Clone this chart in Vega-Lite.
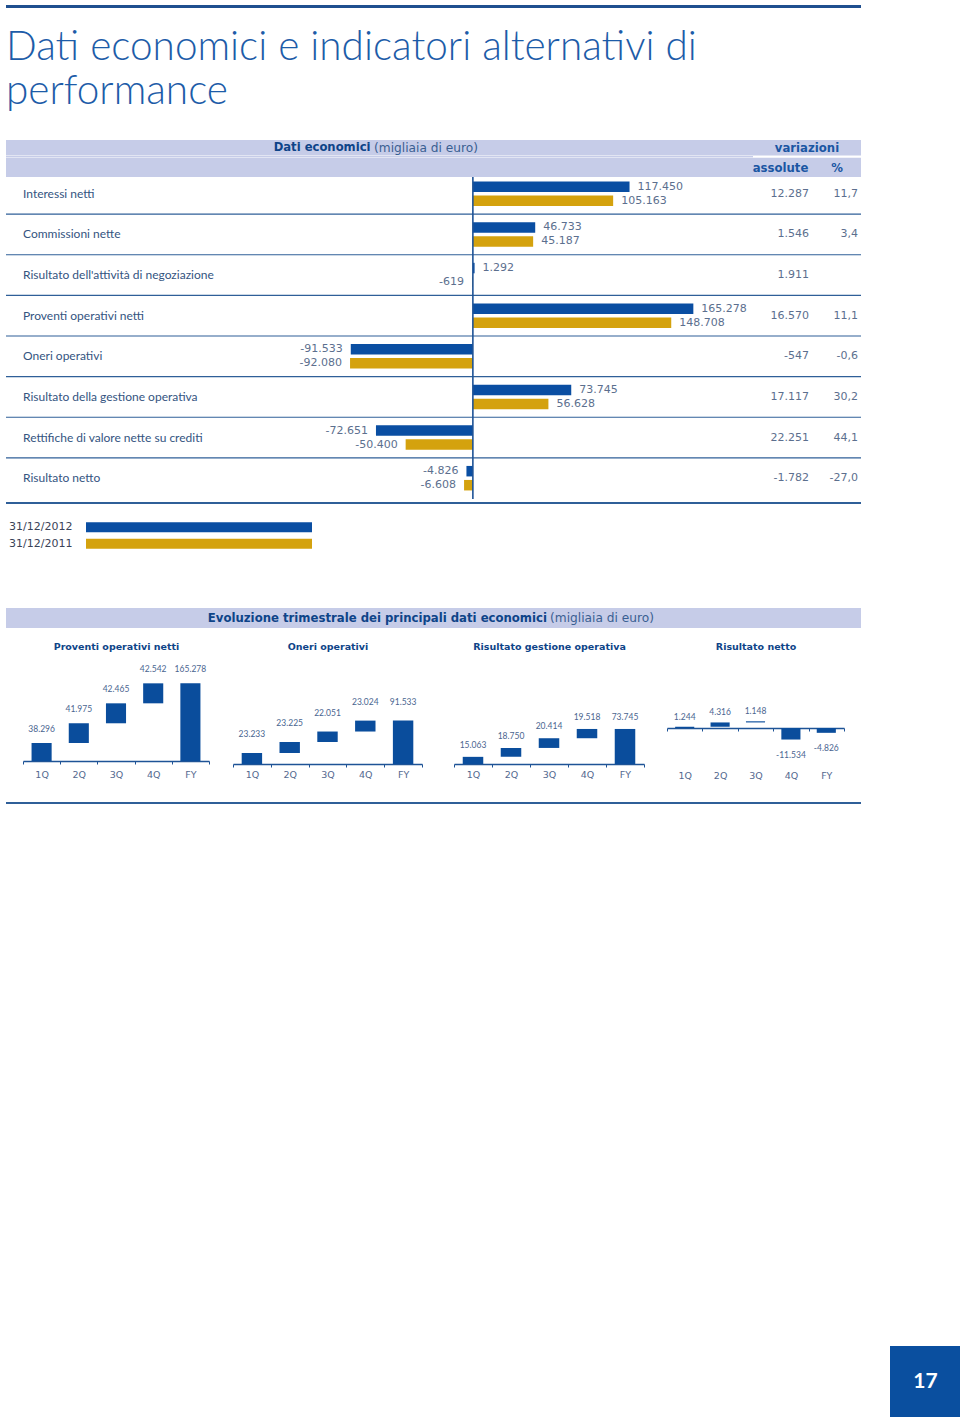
{
  "$schema": "https://vega.github.io/schema/vega-lite/v6.json",
  "background": "#ffffff",
  "padding": {"left": 5, "top": 5, "right": 0, "bottom": 0},
  "spacing": 0,
  "bounds": "flush",
  "config": {
    "view": {"stroke": null},
    "font": "Lato",
    "locale": {"number": {"decimal": ",", "thousands": ".", "grouping": [3], "currency": ["", " €"], "minus": "-"}}
  },
  "datasets": {
    "titolo": [
      {"riga": 1, "testo": "Dati economici e indicatori alternativi di"},
      {"riga": 2, "testo": "performance"}
    ],
    "barre": [
      {"voce": "Interessi netti", "anno": "2012", "valore": 117450},
      {"voce": "Interessi netti", "anno": "2011", "valore": 105163},
      {"voce": "Commissioni nette", "anno": "2012", "valore": 46733},
      {"voce": "Commissioni nette", "anno": "2011", "valore": 45187},
      {"voce": "Risultato dell'attività di negoziazione", "anno": "2012", "valore": 1292},
      {"voce": "Risultato dell'attività di negoziazione", "anno": "2011", "valore": -619},
      {"voce": "Proventi operativi netti", "anno": "2012", "valore": 165278},
      {"voce": "Proventi operativi netti", "anno": "2011", "valore": 148708},
      {"voce": "Oneri operativi", "anno": "2012", "valore": -91533},
      {"voce": "Oneri operativi", "anno": "2011", "valore": -92080},
      {"voce": "Risultato della gestione operativa", "anno": "2012", "valore": 73745},
      {"voce": "Risultato della gestione operativa", "anno": "2011", "valore": 56628},
      {"voce": "Rettifiche di valore nette su crediti", "anno": "2012", "valore": -72651},
      {"voce": "Rettifiche di valore nette su crediti", "anno": "2011", "valore": -50400},
      {"voce": "Risultato netto", "anno": "2012", "valore": -4826},
      {"voce": "Risultato netto", "anno": "2011", "valore": -6608}
    ],
    "variazioni": [
      {"voce": "Interessi netti", "colonna": "assolute", "valore": 12287},
      {"voce": "Interessi netti", "colonna": "%", "valore": 11.7},
      {"voce": "Commissioni nette", "colonna": "assolute", "valore": 1546},
      {"voce": "Commissioni nette", "colonna": "%", "valore": 3.4},
      {"voce": "Risultato dell'attività di negoziazione", "colonna": "assolute", "valore": 1911},
      {"voce": "Proventi operativi netti", "colonna": "assolute", "valore": 16570},
      {"voce": "Proventi operativi netti", "colonna": "%", "valore": 11.1},
      {"voce": "Oneri operativi", "colonna": "assolute", "valore": -547},
      {"voce": "Oneri operativi", "colonna": "%", "valore": -0.6},
      {"voce": "Risultato della gestione operativa", "colonna": "assolute", "valore": 17117},
      {"voce": "Risultato della gestione operativa", "colonna": "%", "valore": 30.2},
      {"voce": "Rettifiche di valore nette su crediti", "colonna": "assolute", "valore": 22251},
      {"voce": "Rettifiche di valore nette su crediti", "colonna": "%", "valore": 44.1},
      {"voce": "Risultato netto", "colonna": "assolute", "valore": -1782},
      {"voce": "Risultato netto", "colonna": "%", "valore": -27.0}
    ],
    "legenda": [
      {"anno": "2012", "data": "31/12/2012"},
      {"anno": "2011", "data": "31/12/2011"}
    ],
    "trimestrale": [
      {"grafico": "Proventi operativi netti", "periodo": "1Q", "valore": 38296, "inizio": 0, "fine": 38296},
      {"grafico": "Proventi operativi netti", "periodo": "2Q", "valore": 41975, "inizio": 38296, "fine": 80271},
      {"grafico": "Proventi operativi netti", "periodo": "3Q", "valore": 42465, "inizio": 80271, "fine": 122736},
      {"grafico": "Proventi operativi netti", "periodo": "4Q", "valore": 42542, "inizio": 122736, "fine": 165278},
      {"grafico": "Proventi operativi netti", "periodo": "FY", "valore": 165278, "inizio": 0, "fine": 165278},
      {"grafico": "Oneri operativi", "periodo": "1Q", "valore": 23233, "inizio": 0, "fine": 23233},
      {"grafico": "Oneri operativi", "periodo": "2Q", "valore": 23225, "inizio": 23233, "fine": 46458},
      {"grafico": "Oneri operativi", "periodo": "3Q", "valore": 22051, "inizio": 46458, "fine": 68509},
      {"grafico": "Oneri operativi", "periodo": "4Q", "valore": 23024, "inizio": 68509, "fine": 91533},
      {"grafico": "Oneri operativi", "periodo": "FY", "valore": 91533, "inizio": 0, "fine": 91533},
      {"grafico": "Risultato gestione operativa", "periodo": "1Q", "valore": 15063, "inizio": 0, "fine": 15063},
      {"grafico": "Risultato gestione operativa", "periodo": "2Q", "valore": 18750, "inizio": 15063, "fine": 33813},
      {"grafico": "Risultato gestione operativa", "periodo": "3Q", "valore": 20414, "inizio": 33813, "fine": 54227},
      {"grafico": "Risultato gestione operativa", "periodo": "4Q", "valore": 19518, "inizio": 54227, "fine": 73745},
      {"grafico": "Risultato gestione operativa", "periodo": "FY", "valore": 73745, "inizio": 0, "fine": 73745},
      {"grafico": "Risultato netto", "periodo": "1Q", "valore": 1244, "inizio": 0, "fine": 1244},
      {"grafico": "Risultato netto", "periodo": "2Q", "valore": 4316, "inizio": 1244, "fine": 5560},
      {"grafico": "Risultato netto", "periodo": "3Q", "valore": 1148, "inizio": 5560, "fine": 6708},
      {"grafico": "Risultato netto", "periodo": "4Q", "valore": -11534, "inizio": 0, "fine": -11534},
      {"grafico": "Risultato netto", "periodo": "FY", "valore": -4826, "inizio": 0, "fine": -4826}
    ]
  },
  "vconcat": [
    {"width": 855, "height": 3, "view": {"fill": "#1f4f8f", "stroke": null}, "data": {"values": []}, "mark": "point"},
    {
      "width": 855, "height": 132,
      "data": {"name": "titolo"},
      "mark": {"type": "text", "align": "left", "baseline": "alphabetic", "font": "Lato", "fontWeight": 300, "fontSize": 40.5, "color": "#1d5ca8"},
      "encoding": {
        "x": {"datum": 0, "type": "quantitative", "scale": {"domain": [0, 1]}, "axis": null},
        "y": {"field": "riga", "type": "ordinal", "scale": {"type": "point", "padding": 1.1923, "align": 0.591}, "axis": null},
        "text": {"field": "testo"}
      }
    },
    {
      "width": 855, "height": 15.5,
      "view": {"fill": "#c6cce8", "stroke": null},
      "layer": [
        {"data": {"values": [{"testo": "Dati economici"}]}, "mark": {"type": "text", "align": "right", "baseline": "middle", "dx": -63, "font": "DejaVu Sans", "fontWeight": "bold", "fontSize": 11.6, "color": "#0e4488"}, "encoding": {"text": {"field": "testo"}}},
        {"data": {"values": [{"testo": "(migliaia di euro)"}]}, "mark": {"type": "text", "align": "left", "baseline": "middle", "dx": -59.5, "font": "DejaVu Sans", "fontSize": 12.2, "color": "#3a5f92"}, "encoding": {"text": {"field": "testo"}}},
        {"data": {"values": [{"testo": "variazioni"}]}, "mark": {"type": "text", "baseline": "middle", "font": "DejaVu Sans", "fontWeight": "bold", "fontSize": 11.7, "color": "#1b56a3"},
         "encoding": {"x": {"field": "testo", "type": "nominal", "scale": {"range": [747, 855], "paddingInner": 0, "paddingOuter": 0}, "axis": null}, "text": {"field": "testo"}}}
      ]
    },
    {
      "width": 855, "height": 1.5,
      "view": {"fill": "#c6cce8", "stroke": null},
      "data": {"values": [{"colonna": "assolute"}, {"colonna": "%"}]},
      "mark": {"type": "bar", "color": "#ffffff"},
      "encoding": {"x": {"field": "colonna", "type": "nominal", "sort": null, "scale": {"domain": ["assolute", "%"], "range": [747, 855], "paddingInner": 0, "paddingOuter": 0}, "axis": null}}
    },
    {
      "width": 855, "height": 19,
      "view": {"fill": "#c6cce8", "stroke": null},
      "data": {"values": [{"colonna": "assolute"}, {"colonna": "%"}]},
      "mark": {"type": "text", "baseline": "middle", "font": "DejaVu Sans", "fontWeight": "bold", "fontSize": 11.7, "color": "#1b56a3"},
      "encoding": {"x": {"field": "colonna", "type": "nominal", "sort": null, "scale": {"type": "point", "domain": ["assolute", "%"], "range": [774.5, 831], "padding": 0}, "axis": null}, "text": {"field": "colonna"}}
    },
    {
      "width": 855, "height": 322,
      "resolve": {"scale": {"x": "independent"}, "axis": {"x": "independent"}},
      "layer": [
        {
          "data": {"name": "variazioni"},
          "transform": [{"filter": "datum.colonna === 'assolute' && datum.voce !== 'Risultato netto'"}],
          "mark": {"type": "rule", "color": "#2f5f98", "strokeWidth": 1.2},
          "encoding": {"y": {"field": "voce", "type": "nominal", "sort": null, "bandPosition": 1, "scale": {"domain": ["Interessi netti", "Commissioni nette", "Risultato dell'attività di negoziazione", "Proventi operativi netti", "Oneri operativi", "Risultato della gestione operativa", "Rettifiche di valore nette su crediti", "Risultato netto"], "range": [-3.5, 321.5], "paddingInner": 0, "paddingOuter": 0}, "axis": null}}
        },
        {
          "data": {"name": "variazioni"},
          "transform": [{"filter": "datum.colonna === 'assolute'"}],
          "mark": {"type": "text", "align": "left", "baseline": "middle", "font": "Lato", "fontSize": 12, "color": "#34547f"},
          "encoding": {
            "y": {"field": "voce", "type": "nominal", "sort": null, "axis": null},
            "x": {"datum": "voci", "type": "nominal", "scale": {"type": "point", "range": [17, 747], "padding": 0, "align": 0}, "axis": null},
            "text": {"field": "voce"}
          }
        },
        {
          "data": {"name": "barre"},
          "mark": {"type": "bar"},
          "encoding": {
            "y": {"field": "voce", "type": "nominal", "sort": null, "axis": null},
            "yOffset": {"field": "anno", "type": "nominal", "scale": {"domain": ["2012", "2011"], "paddingInner": 0.25, "paddingOuter": 0.575}},
            "x": {"field": "valore", "type": "quantitative", "scale": {"domain": [-350000, 210000], "range": [0, 747], "nice": false, "zero": false}, "axis": null},
            "color": {"field": "anno", "type": "nominal", "scale": {"domain": ["2012", "2011"], "range": ["#0a4ea2", "#d4a20e"]}, "legend": null}
          }
        },
        {
          "data": {"name": "barre"},
          "transform": [{"filter": "datum.valore >= 0"}],
          "mark": {"type": "text", "align": "left", "baseline": "middle", "dx": 8, "font": "DejaVu Sans", "fontSize": 11, "color": "#5c6f8e"},
          "encoding": {
            "y": {"field": "voce", "type": "nominal", "sort": null, "axis": null},
            "yOffset": {"field": "anno", "type": "nominal"},
            "x": {"field": "valore", "type": "quantitative", "scale": {"domain": [-350000, 210000], "range": [0, 747], "nice": false, "zero": false}, "axis": null},
            "text": {"field": "valore", "type": "quantitative", "format": ",d"}
          }
        },
        {
          "data": {"name": "barre"},
          "transform": [{"filter": "datum.valore < 0"}],
          "mark": {"type": "text", "align": "right", "baseline": "middle", "dx": -8, "font": "DejaVu Sans", "fontSize": 11, "color": "#5c6f8e"},
          "encoding": {
            "y": {"field": "voce", "type": "nominal", "sort": null, "axis": null},
            "yOffset": {"field": "anno", "type": "nominal"},
            "x": {"field": "valore", "type": "quantitative", "scale": {"domain": [-350000, 210000], "range": [0, 747], "nice": false, "zero": false}, "axis": null},
            "text": {"field": "valore", "type": "quantitative", "format": ",d"}
          }
        },
        {
          "data": {"values": [{}]},
          "mark": {"type": "rule", "color": "#1e5396", "strokeWidth": 1.6},
          "encoding": {"x": {"datum": 0, "type": "quantitative", "scale": {"domain": [-350000, 210000], "range": [0, 747], "nice": false, "zero": false}, "axis": null}}
        },
        {
          "data": {"name": "variazioni"},
          "transform": [{"filter": "datum.colonna === 'assolute'"}],
          "mark": {"type": "text", "align": "right", "baseline": "middle", "font": "DejaVu Sans", "fontSize": 11, "color": "#5c6f8e"},
          "encoding": {
            "y": {"field": "voce", "type": "nominal", "sort": null, "axis": null},
            "x": {"field": "colonna", "type": "nominal", "sort": null, "scale": {"type": "point", "domain": ["assolute", "%"], "range": [803, 852], "padding": 0}, "axis": null},
            "text": {"field": "valore", "type": "quantitative", "format": ",d"}
          }
        },
        {
          "data": {"name": "variazioni"},
          "transform": [{"filter": "datum.colonna === '%'"}],
          "mark": {"type": "text", "align": "right", "baseline": "middle", "font": "DejaVu Sans", "fontSize": 11, "color": "#5c6f8e"},
          "encoding": {
            "y": {"field": "voce", "type": "nominal", "sort": null, "axis": null},
            "x": {"field": "colonna", "type": "nominal", "sort": null, "scale": {"type": "point", "domain": ["assolute", "%"], "range": [803, 852], "padding": 0}, "axis": null},
            "text": {"field": "valore", "type": "quantitative", "format": ".1f"}
          }
        }
      ]
    },
    {"width": 1, "height": 3, "data": {"values": []}, "mark": "point"},
    {"width": 855, "height": 2, "view": {"fill": "#2f5f98", "stroke": null}, "data": {"values": []}, "mark": "point"},
    {"width": 1, "height": 15, "data": {"values": []}, "mark": "point"},
    {
      "width": 306, "height": 33,
      "data": {"name": "legenda"},
      "resolve": {"scale": {"x": "independent"}},
      "layer": [
        {
          "mark": {"type": "text", "align": "left", "baseline": "middle", "font": "DejaVu Sans", "fontSize": 11, "color": "#3a4358"},
          "encoding": {
            "y": {"field": "anno", "type": "nominal", "sort": null, "scale": {"domain": ["2012", "2011"], "paddingInner": 0.4, "paddingOuter": 0.2}, "axis": null},
            "x": {"datum": "date", "type": "nominal", "scale": {"type": "point", "range": [3, 306], "padding": 0, "align": 0}, "axis": null},
            "text": {"field": "data"}
          }
        },
        {
          "mark": {"type": "bar"},
          "encoding": {
            "y": {"field": "anno", "type": "nominal", "sort": null, "axis": null},
            "x": {"datum": "barre", "type": "nominal", "scale": {"type": "band", "range": [80, 306], "paddingInner": 0, "paddingOuter": 0}, "axis": null},
            "color": {"field": "anno", "type": "nominal", "scale": {"domain": ["2012", "2011"], "range": ["#0a4ea2", "#d4a20e"]}, "legend": null}
          }
        }
      ]
    },
    {"width": 1, "height": 56, "data": {"values": []}, "mark": "point"},
    {
      "width": 855, "height": 20,
      "view": {"fill": "#c6cce8", "stroke": null},
      "layer": [
        {"data": {"values": [{"testo": "Evoluzione trimestrale dei principali dati economici"}]}, "mark": {"type": "text", "align": "right", "baseline": "middle", "dx": 113.5, "font": "DejaVu Sans", "fontWeight": "bold", "fontSize": 11.7, "color": "#0e4488"}, "encoding": {"text": {"field": "testo"}}},
        {"data": {"values": [{"testo": "(migliaia di euro)"}]}, "mark": {"type": "text", "align": "left", "baseline": "middle", "dx": 116.5, "font": "DejaVu Sans", "fontSize": 12.2, "color": "#3a5f92"}, "encoding": {"text": {"field": "testo"}}}
      ]
    },
    {"width": 1, "height": 33, "data": {"values": []}, "mark": "point"},
    {
      "width": 855, "height": 103,
      "data": {"name": "trimestrale"},
      "resolve": {"scale": {"x": "independent", "y": "independent"}, "axis": {"x": "independent", "y": "independent"}},
      "layer": [
        {
          "transform": [{"filter": "datum.grafico === 'Proventi operativi netti'"}],
          "mark": {"type": "bar", "color": "#0a4d9c", "width": {"band": 0.54}},
          "encoding": {
            "x": {"field": "periodo", "type": "ordinal", "sort": null, "scale": {"domain": ["1Q", "2Q", "3Q", "4Q", "FY"], "range": [17, 203], "paddingInner": 0, "paddingOuter": 0}, "axis": {"orient": "bottom", "offset": -3, "title": null, "labelAngle": 0, "tickBand": "extent", "tickSize": 3, "tickColor": "#1e5396", "domainColor": "#1e5396", "domainWidth": 1.5, "grid": false, "labelFont": "DejaVu Sans", "labelFontSize": 9.5, "labelColor": "#54698f", "labelPadding": 5}},
            "y": {"field": "inizio", "type": "quantitative", "scale": {"domain": [0, 212800], "range": [100, 0], "nice": false, "zero": false}, "axis": null},
            "y2": {"field": "fine"}
          }
        },
        {
          "transform": [{"filter": "datum.grafico === 'Proventi operativi netti'"}],
          "mark": {"type": "text", "baseline": "middle", "dy": -14, "font": "Lato", "fontSize": 8.5, "color": "#4a6590"},
          "encoding": {
            "x": {"field": "periodo", "type": "ordinal", "sort": null, "scale": {"domain": ["1Q", "2Q", "3Q", "4Q", "FY"], "range": [17, 203], "paddingInner": 0, "paddingOuter": 0}, "axis": {"orient": "top", "title": "Proventi operativi netti", "titleFont": "DejaVu Sans", "titleFontSize": 9.5, "titleFontWeight": "bold", "titleColor": "#0e4488", "titlePadding": 10, "domain": false, "ticks": false, "labels": false, "grid": false}},
            "y": {"field": "fine", "type": "quantitative", "scale": {"domain": [0, 212800], "range": [100, 0], "nice": false, "zero": false}, "axis": null},
            "text": {"field": "valore", "type": "quantitative", "format": ",d"}
          }
        },
        {
          "transform": [{"filter": "datum.grafico === 'Oneri operativi'"}],
          "mark": {"type": "bar", "color": "#0a4d9c", "width": {"band": 0.54}},
          "encoding": {
            "x": {"field": "periodo", "type": "ordinal", "sort": null, "scale": {"domain": ["1Q", "2Q", "3Q", "4Q", "FY"], "range": [227, 416], "paddingInner": 0, "paddingOuter": 0}, "axis": {"orient": "bottom", "title": null, "labelAngle": 0, "tickBand": "extent", "tickSize": 3, "tickColor": "#1e5396", "domainColor": "#1e5396", "domainWidth": 1.5, "grid": false, "labelFont": "DejaVu Sans", "labelFontSize": 9.5, "labelColor": "#54698f", "labelPadding": 2}},
            "y": {"field": "inizio", "type": "quantitative", "scale": {"domain": [0, 217300], "range": [103, 0], "nice": false, "zero": false}, "axis": null},
            "y2": {"field": "fine"}
          }
        },
        {
          "transform": [{"filter": "datum.grafico === 'Oneri operativi'"}],
          "mark": {"type": "text", "baseline": "middle", "dy": -19, "font": "Lato", "fontSize": 8.5, "color": "#4a6590"},
          "encoding": {
            "x": {"field": "periodo", "type": "ordinal", "sort": null, "scale": {"domain": ["1Q", "2Q", "3Q", "4Q", "FY"], "range": [227, 416], "paddingInner": 0, "paddingOuter": 0}, "axis": {"orient": "top", "title": "Oneri operativi", "titleFont": "DejaVu Sans", "titleFontSize": 9.5, "titleFontWeight": "bold", "titleColor": "#0e4488", "titlePadding": 10, "domain": false, "ticks": false, "labels": false, "grid": false}},
            "y": {"field": "fine", "type": "quantitative", "scale": {"domain": [0, 217300], "range": [103, 0], "nice": false, "zero": false}, "axis": null},
            "text": {"field": "valore", "type": "quantitative", "format": ",d"}
          }
        },
        {
          "transform": [{"filter": "datum.grafico === 'Risultato gestione operativa'"}],
          "mark": {"type": "bar", "color": "#0a4d9c", "width": {"band": 0.54}},
          "encoding": {
            "x": {"field": "periodo", "type": "ordinal", "sort": null, "scale": {"domain": ["1Q", "2Q", "3Q", "4Q", "FY"], "range": [448, 638], "paddingInner": 0, "paddingOuter": 0}, "axis": {"orient": "bottom", "title": null, "labelAngle": 0, "tickBand": "extent", "tickSize": 3, "tickColor": "#1e5396", "domainColor": "#1e5396", "domainWidth": 1.5, "grid": false, "labelFont": "DejaVu Sans", "labelFontSize": 9.5, "labelColor": "#54698f", "labelPadding": 2}},
            "y": {"field": "inizio", "type": "quantitative", "scale": {"domain": [0, 216800], "range": [103, 0], "nice": false, "zero": false}, "axis": null},
            "y2": {"field": "fine"}
          }
        },
        {
          "transform": [{"filter": "datum.grafico === 'Risultato gestione operativa'"}],
          "mark": {"type": "text", "baseline": "middle", "dy": -12, "font": "Lato", "fontSize": 8.5, "color": "#4a6590"},
          "encoding": {
            "x": {"field": "periodo", "type": "ordinal", "sort": null, "scale": {"domain": ["1Q", "2Q", "3Q", "4Q", "FY"], "range": [448, 638], "paddingInner": 0, "paddingOuter": 0}, "axis": {"orient": "top", "title": "Risultato gestione operativa", "titleFont": "DejaVu Sans", "titleFontSize": 9.5, "titleFontWeight": "bold", "titleColor": "#0e4488", "titlePadding": 10, "domain": false, "ticks": false, "labels": false, "grid": false}},
            "y": {"field": "fine", "type": "quantitative", "scale": {"domain": [0, 216800], "range": [103, 0], "nice": false, "zero": false}, "axis": null},
            "text": {"field": "valore", "type": "quantitative", "format": ",d"}
          }
        },
        {
          "transform": [{"filter": "datum.grafico === 'Risultato netto'"}],
          "mark": {"type": "bar", "color": "#0a4d9c", "width": {"band": 0.54}},
          "encoding": {
            "x": {"field": "periodo", "type": "ordinal", "sort": null, "scale": {"domain": ["1Q", "2Q", "3Q", "4Q", "FY"], "range": [661, 838], "paddingInner": 0, "paddingOuter": 0}, "axis": {"orient": "bottom", "offset": -36, "title": null, "labelAngle": 0, "tickBand": "extent", "tickSize": 3, "tickColor": "#1e5396", "domainColor": "#1e5396", "domainWidth": 1.5, "grid": false, "labelFont": "DejaVu Sans", "labelFontSize": 9.5, "labelColor": "#54698f", "labelPadding": 39}},
            "y": {"field": "inizio", "type": "quantitative", "scale": {"domain": [-36000, 67000], "range": [103, 0], "nice": false, "zero": false}, "axis": null},
            "y2": {"field": "fine"}
          }
        },
        {
          "transform": [{"filter": "datum.grafico === 'Risultato netto' && datum.valore >= 0"}],
          "mark": {"type": "text", "baseline": "middle", "dy": -10, "font": "Lato", "fontSize": 8.5, "color": "#4a6590"},
          "encoding": {
            "x": {"field": "periodo", "type": "ordinal", "sort": null, "scale": {"domain": ["1Q", "2Q", "3Q", "4Q", "FY"], "range": [661, 838], "paddingInner": 0, "paddingOuter": 0}, "axis": {"orient": "top", "title": "Risultato netto", "titleFont": "DejaVu Sans", "titleFontSize": 9.5, "titleFontWeight": "bold", "titleColor": "#0e4488", "titlePadding": 10, "domain": false, "ticks": false, "labels": false, "grid": false}},
            "y": {"field": "fine", "type": "quantitative", "scale": {"domain": [-36000, 67000], "range": [103, 0], "nice": false, "zero": false}, "axis": null},
            "text": {"field": "valore", "type": "quantitative", "format": ",d"}
          }
        },
        {
          "transform": [{"filter": "datum.grafico === 'Risultato netto' && datum.valore < 0"}],
          "mark": {"type": "text", "baseline": "middle", "dy": 15, "font": "Lato", "fontSize": 8.5, "color": "#4a6590"},
          "encoding": {
            "x": {"field": "periodo", "type": "ordinal", "sort": null, "scale": {"domain": ["1Q", "2Q", "3Q", "4Q", "FY"], "range": [661, 838], "paddingInner": 0, "paddingOuter": 0}, "axis": null},
            "y": {"field": "fine", "type": "quantitative", "scale": {"domain": [-36000, 67000], "range": [103, 0], "nice": false, "zero": false}, "axis": null},
            "text": {"field": "valore", "type": "quantitative", "format": ",d"}
          }
        }
      ]
    },
    {"width": 1, "height": 38, "data": {"values": []}, "mark": "point"},
    {"width": 855, "height": 2, "view": {"fill": "#2f5f98", "stroke": null}, "data": {"values": []}, "mark": "point"},
    {"width": 1, "height": 542, "data": {"values": []}, "mark": "point"},
    {
      "width": 955, "height": 72,
      "data": {"values": [{"pagina": "17"}]},
      "layer": [
        {
          "mark": {"type": "bar", "color": "#0a4f9f"},
          "encoding": {"x": {"field": "pagina", "type": "nominal", "scale": {"range": [884, 955], "paddingInner": 0, "paddingOuter": 0}, "axis": null}}
        },
        {
          "mark": {"type": "text", "baseline": "middle", "font": "Lato", "fontWeight": "bold", "fontSize": 21, "color": "#ffffff"},
          "encoding": {"x": {"field": "pagina", "type": "nominal", "axis": null}, "text": {"field": "pagina"}}
        }
      ]
    }
  ]
}
